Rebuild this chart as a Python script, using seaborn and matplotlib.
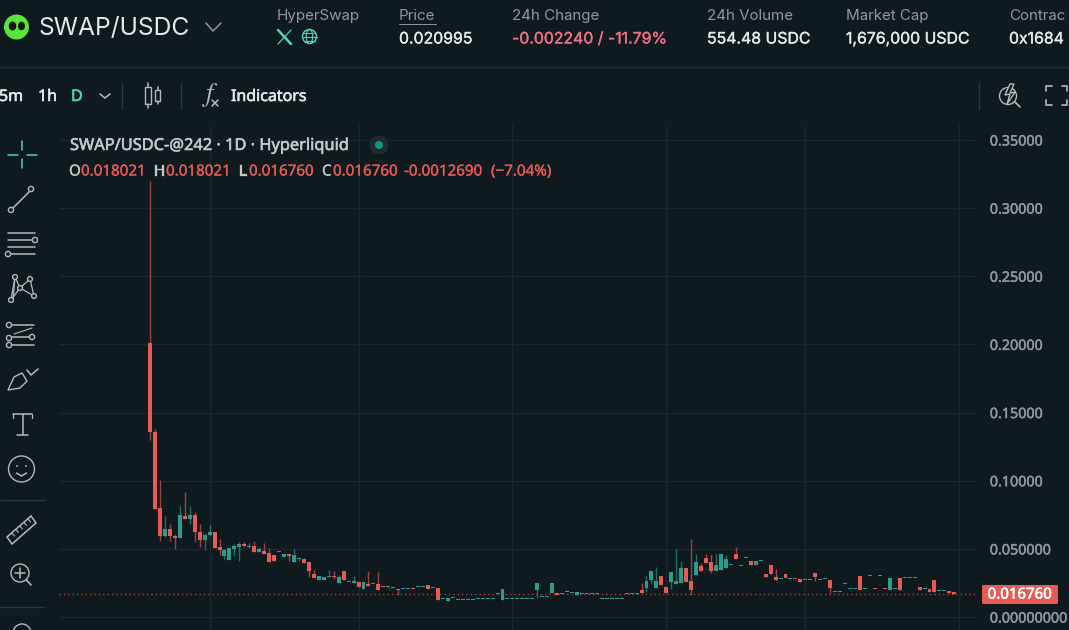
import numpy as np
import pandas as pd
import matplotlib
matplotlib.use('Agg')
import matplotlib.pyplot as plt
import matplotlib.patheffects as pe
from matplotlib.patches import Circle, Rectangle, Polygon, Ellipse, FancyBboxPatch
import seaborn as sns

# daily candles
opens = [.201,.136,.0802,.0591,.0645,.0591,.0576,.0743,.072,.075,
    .0625,.0566,.0603,.062,.0515,.0449,.042,.05,.0515,.0532,
    .0513,.0522,.0478,.0486,.0471,.0456,.0476,.0441,.0461,.0405,
    .0427,.0429,.0402,.0317,.0273,.0273,.0292,.0299,.025,.0339,
    .0255,.025,.0255,.0206,.0243,.024,.0243,.022,.0219,.0212,
    .0204,.0204,.0204,.0205,.0219,.0219,.0236,.0211,.0214,.013,
    .0118,.0138,.0123,.0123,.0123,.0125,.013,.013,.013,.013,
    .0167,.0125,.013,.013,.013,.013,.013,.013,.0199,.0145,
    .0145,.0177,.0177,.0167,.0183,.0175,.0162,.0167,.0167,.0167,
    .0167,.013,.013,.013,.013,.013,.0167,.0167,.0167,.0199,
    .0214,.0273,.0214,.0302,.0221,.0258,.0243,.025,.0361,.0265,
    .0309,.0375,.0434,.0405,.0339,.0346,.0361,.0383,.0464,.0375,
    .0432,.0412,.0383,.041,.0317,.0383,.0295,.0277,.0317,.0277,
    .0278,.028,.027,.027,.0324,.027,.0277,.0273,.0182,.0182,
    .0241,.0204,.0204,.0302,.0204,.0299,.0205,.0299,.0205,.0199,
    .0204,.0287,.0285,.0285,.0285,.0221,.0204,.0206,.0273,.0189,
    .0189,.0192,.018021]
closes = [.136,.0795,.0591,.0645,.0591,.0576,.075,.072,.075,.062,
    .0566,.0603,.0625,.0508,.049,.0493,.0508,.0522,.0532,.0522,
    .0522,.0478,.05,.0464,.0405,.0412,.0476,.0463,.0449,.0456,
    .0427,.0397,.0339,.0285,.0299,.0297,.0292,.0292,.0297,.0273,
    .0255,.0263,.0221,.0255,.0228,.024,.0201,.0219,.0219,.0211,
    .0199,.0204,.0204,.0204,.0219,.0219,.0204,.0211,.0126,.013,
    .014,.0138,.0123,.0123,.0123,.0125,.013,.013,.013,.013,
    .0167,.0206,.013,.013,.013,.013,.013,.013,.025,.0145,
    .0145,.025,.0162,.0167,.0182,.0175,.0184,.0167,.0167,.0167,
    .0167,.013,.013,.013,.013,.013,.0167,.0167,.0167,.0177,
    .0265,.0336,.0265,.0236,.0177,.0331,.0265,.0361,.0258,.0199,
    .0405,.0339,.0397,.0339,.0383,.0464,.0427,.0383,.0427,.0375,
    .0432,.0383,.0412,.041,.0295,.0317,.0273,.0277,.0287,.0277,
    .0277,.0258,.027,.027,.0295,.027,.0277,.0214,.0182,.0182,
    .0241,.0204,.0204,.0199,.0204,.0299,.0204,.0299,.0204,.0287,
    .0204,.0199,.0285,.0285,.0285,.0199,.0204,.0184,.0184,.0189,
    .0189,.0177,.01676]
highs = [.32,.138,.1003,.0743,.0684,.0611,.0816,.0914,.0811,.0767,
    .0684,.0616,.0674,.062,.0574,.0498,.0508,.0537,.0547,.0552,
    .0542,.0559,.0513,.0542,.0505,.0456,.0476,.0463,.0461,.0498,
    .0437,.0434,.0402,.0346,.0299,.0297,.0346,.0334,.0307,.0339,
    .0255,.0299,.0255,.0255,.0339,.024,.0329,.022,.0228,.0212,
    .0204,.0204,.0204,.0205,.0219,.0219,.0236,.0211,.0214,.013,
    .014,.0138,.0123,.0123,.0123,.0125,.013,.013,.013,.013,
    .0167,.0206,.013,.013,.013,.013,.013,.013,.025,.0145,
    .0145,.025,.0177,.0167,.0183,.0175,.0184,.0167,.0167,.0167,
    .0167,.013,.013,.013,.013,.013,.0167,.0167,.0167,.0253,
    .0302,.0336,.0368,.0302,.0221,.0331,.05,.0412,.0361,.0574,
    .0464,.0395,.0464,.0464,.0464,.0464,.0456,.0383,.0515,.0375,
    .0432,.0412,.0412,.041,.0317,.0383,.0353,.0277,.0317,.0277,
    .0278,.028,.027,.027,.0324,.027,.0277,.0273,.0182,.0182,
    .0241,.0204,.0204,.0302,.0204,.0299,.0205,.0299,.0205,.0287,
    .0204,.0287,.0285,.0285,.0285,.0221,.0204,.0206,.0273,.0189,
    .0189,.0192,.018021]
lows = [.13,.0795,.0554,.059,.0554,.0498,.0576,.072,.0684,.0547,
    .0513,.05,.0596,.0508,.0454,.0424,.042,.0449,.041,.0513,
    .0508,.0478,.0478,.0464,.0405,.0412,.0476,.0441,.041,.0405,
    .041,.0397,.0292,.0285,.0273,.0273,.0292,.0282,.025,.0273,
    .0255,.025,.0221,.0206,.0228,.024,.0201,.0219,.021,.0211,
    .0162,.0204,.0204,.0204,.0219,.0219,.0204,.0211,.0126,.013,
    .0118,.0138,.0123,.0123,.0123,.0125,.013,.013,.013,.013,
    .0167,.0125,.013,.013,.013,.013,.013,.013,.014,.0145,
    .0145,.0177,.0162,.0167,.0182,.0175,.0162,.0167,.0167,.0167,
    .0167,.013,.013,.013,.013,.013,.0167,.0167,.0167,.0177,
    .0184,.0243,.0214,.0236,.0177,.0206,.0243,.025,.0258,.0162,
    .0309,.0339,.0397,.0324,.0339,.0346,.0361,.0383,.0427,.0375,
    .0432,.0383,.0383,.041,.0295,.0317,.0273,.0277,.0287,.0277,
    .0277,.0258,.027,.027,.0265,.027,.0277,.0177,.0182,.0182,
    .0241,.0204,.0204,.0199,.0204,.0299,.0204,.0299,.0204,.0199,
    .0204,.0199,.0285,.0285,.0285,.0199,.0204,.0184,.0184,.0189,
    .0189,.0177,.01676]

price_ticks = [0.35, 0.30, 0.25, 0.20, 0.15, 0.10, 0.05, 0.0]
price_labels = ['0.35000', '0.30000', '0.25000', '0.20000', '0.15000', '0.10000', '0.050000', '0.00000000']
month_days = [12, 42, 73, 104, 132, 163]
last_price = 0.01676

BG = '#0f1a1f'
GRID = '#1b272c'
UP = '#2a9d8f'
DOWN = '#e85a55'
MUTED = '#8f989b'
LIGHT = '#e6e9ea'
ICON = '#b4babb'
TEAL = '#50d2c1'

sns.set_style('dark', rc={'axes.facecolor': BG, 'figure.facecolor': BG, 'grid.color': GRID,
                          'axes.grid': True, 'axes.edgecolor': BG})
plt.rcParams['font.family'] = ['Inter', 'DejaVu Sans']

df = pd.DataFrame({'day': np.arange(len(opens)), 'open': opens, 'high': highs, 'low': lows, 'close': closes})
df['up'] = df['close'] >= df['open']
df['body_low'] = df[['open', 'close']].min(axis=1)
df['body'] = (df['close'] - df['open']).abs().clip(lower=0.0009)

fig = plt.figure(figsize=(10.69, 6.30), dpi=100)
ax = fig.add_axes([59/1069, 0, (978-59)/1069, 505/630])

# wicks then bodies
for is_up, color in [(True, UP), (False, DOWN)]:
    part = df[df['up'] == is_up]
    ax.vlines(part['day'], part['low'], part['high'], color=color, lw=1, alpha=0.65, zorder=3)
    sns.barplot(data=part, x='day', y='body', bottom=part['body_low'].values, native_scale=True,
                color=color, saturation=1, width=0.8, errorbar=None, linewidth=0, ax=ax, zorder=4)

ax.axhline(last_price, color=DOWN, lw=0.9, ls=(0, (1, 2.5)), alpha=0.75, zorder=2)
ax.set_xlim(-18.33, 166.77)
ax.set_ylim(-0.00954, 0.36097)
ax.set_xticks(month_days)
ax.set_xticklabels([])
ax.set_yticks(price_ticks)
ax.set_yticklabels(price_labels, color=MUTED, fontsize=10.3, family='Noto Sans',
                   path_effects=[pe.withStroke(linewidth=0.35, foreground=MUTED)])
ax.yaxis.tick_right()
ax.tick_params(length=0, pad=8.5, bottom=False)
ax.set_xlabel('')
ax.set_ylabel('')
ax.grid(True, color=GRID, lw=1)
for s in ax.spines.values():
    s.set_visible(False)

# pixel overlay for the app's chrome
ov = fig.add_axes([0, 0, 1, 1], zorder=5)
ov.set_xlim(0, 1069)
ov.set_ylim(630, 0)
ov.axis('off')
ov.patch.set_alpha(0)

def txt(x, y, s, color=LIGHT, size=10.8, family='Inter', stroke=0, **kw):
    t = ov.text(x, y, s, color=color, fontsize=size, family=family, va='center', ha=kw.pop('ha', 'left'), **kw)
    if stroke:
        t.set_path_effects([pe.withStroke(linewidth=stroke, foreground=color)])

def line(xs, ys, color=ICON, lw=1.1):
    ov.plot(xs, ys, color=color, lw=lw, solid_capstyle='round')

def ring(x, y, r=2.6, color=ICON, lw=1):
    ov.add_patch(Circle((x, y), r, fc=BG, ec=color, lw=lw, zorder=6))

# header
ov.add_patch(Rectangle((0, 66), 1069, 3, fc='#1b262b', lw=0))
ov.add_patch(Circle((16.5, 27), 12.5, fc='#5be33c', lw=0))
ov.add_patch(Ellipse((12.5, 26), 7.5, 9, fc='#0a1408', lw=0))
ov.add_patch(Ellipse((21.5, 26), 7, 8.5, fc='#0a1408', lw=0))
txt(39, 28, 'SWAP/USDC', size=17.7)
line([206, 213, 221], [23, 31, 23], color=MUTED)

txt(277, 16, 'HyperSwap', MUTED, 10.9)
txt(399, 16, 'Price', MUTED, 10.9)
line([399, 436], [24, 24], color=MUTED, lw=0.7)
txt(399, 39, '0.020995', size=11.4, stroke=0.25)
txt(512, 16, '24h Change', MUTED, 10.9)
txt(512, 39, '-0.002240 / -11.79%', '#ed7088', 11.4, stroke=0.25)
txt(707, 16, '24h Volume', MUTED, 10.9)
txt(707, 39, '554.48 USDC', size=11.4, stroke=0.25)
txt(846, 16, 'Market Cap', MUTED, 10.9)
txt(846, 39, '1,676,000 USDC', size=11.4, stroke=0.25)
txt(1009, 16, 'Contrac', MUTED, 10.9)
txt(1009, 39, '0x1684', size=11.4, stroke=0.25)

# x and globe links
line([278, 291], [30, 44], color=TEAL, lw=1.8)
line([291, 278], [30, 44], color=TEAL, lw=0.9)
ov.add_patch(Circle((309.5, 36.5), 7, fc='none', ec=TEAL, lw=1))
ov.add_patch(Ellipse((309.5, 36.5), 6.5, 14, fc='none', ec=TEAL, lw=0.8))
line([302.5, 316.5], [36.5, 36.5], color=TEAL, lw=0.8)
line([304, 315], [32.5, 32.5], color=TEAL, lw=0.7)
line([304, 315], [40.5, 40.5], color=TEAL, lw=0.7)

# toolbar
txt(-1, 97, '5m', LIGHT, 11.5, 'Noto Sans', stroke=0.4)
txt(38, 97, '1h', LIGHT, 11.5, 'Noto Sans', stroke=0.4)
txt(71, 97, 'D', TEAL, 11.5, 'Noto Sans', stroke=0.4)
line([100, 105, 110], [94, 98, 94], color=ICON)
for sep_x in (122, 181, 979):
    line([sep_x, sep_x], [83, 109], color='#2d383c', lw=1)
ov.add_patch(Rectangle((145, 87), 5.5, 17, fc='none', ec=ICON, lw=1))
line([147.7, 147.7], [83, 87]); line([147.7, 147.7], [104, 108])
ov.add_patch(Rectangle((155, 90), 5, 11, fc='none', ec=ICON, lw=1))
line([157.5, 157.5], [87, 90]); line([157.5, 157.5], [101, 104])
txt(202, 95, '$f$', ICON, 19, 'DejaVu Serif', math_fontfamily='stix')
line([212, 218], [100, 106]); line([218, 212], [100, 106])
txt(231, 97, 'Indicators', LIGHT, 11.5, 'Noto Sans', stroke=0.4)

# right side icons
ov.add_patch(Circle((1008, 96), 8.5, fc='none', ec=ICON, lw=1))
ov.add_patch(Polygon([(1010, 84), (1005, 95), (1010, 94), (1007, 104), (1015, 92), (1010, 93), (1014, 84)],
                     fc=BG, ec=ICON, lw=1, zorder=6))
line([1015, 1020], [102, 107], lw=1.2)
for xs, ys in [([1046, 1046, 1052], [91, 86, 86]), ([1062, 1067, 1067], [86, 86, 91]),
               ([1046, 1046, 1052], [100, 105, 105]), ([1062, 1067, 1067], [105, 105, 100])]:
    line(xs, ys, lw=1.2)

# left drawing tools
line([22, 22], [141, 150], color=TEAL, lw=1.1); line([22, 22], [159, 168], color=TEAL, lw=1.1)
line([8, 18], [155, 155], color=TEAL, lw=1.1); line([27, 37], [155, 155], color=TEAL, lw=1.1)
line([11, 31], [210, 190]); ring(11, 210); ring(31, 189)
line([8, 35], [233, 233]); line([8, 35], [240, 240]); line([8, 35], [247, 247]); line([8, 35], [254, 254])
ring(35, 240); ring(8, 254)
for a, b in [((11, 300), (15, 277)), ((15, 277), (20, 288)), ((20, 288), (30, 279)), ((30, 279), (34, 296)),
             ((11, 300), (20, 288)), ((20, 288), (34, 296)), ((15, 277), (13, 300))]:
    line([a[0], b[0]], [a[1], b[1]], lw=0.9)
for p in [(11, 300), (15, 277), (20, 288), (30, 279), (34, 296)]:
    ring(p[0], p[1], 2.4)
line([10, 34], [325, 325]); line([10, 34], [337, 337]); line([10, 34], [345, 345])
line([14, 32], [334, 328], lw=0.8)
ring(9, 325); ring(9, 338); ring(32, 337); ring(9, 345)
ov.add_patch(Polygon([(8, 390), (14, 377), (22, 373), (27, 381), (20, 388)], fc='none', ec=ICON, lw=1))
line([27, 31, 38], [370, 375, 369])
line([13, 32], [414, 414]); line([22.5, 22.5], [414, 435]); line([17, 28], [435, 435])
line([13, 13], [414, 418], lw=0.9); line([32, 32], [414, 418], lw=0.9)
ov.add_patch(Circle((21.5, 469), 13, fc='none', ec=ICON, lw=1))
ov.add_patch(Circle((17, 466), 0.9, fc=ICON, lw=0)); ov.add_patch(Circle((26, 466), 0.9, fc=ICON, lw=0))
line([16.5, 21.5, 26.5], [473, 476, 473])
line([0, 44], [500, 500], color='#2d383c', lw=1)
ov.add_patch(Polygon([(7, 537), (31, 516), (36, 523), (12, 544)], fc='none', ec=ICON, lw=1.1))
for i in range(5):
    line([12 + 4*i, 14.5 + 4*i], [533 - 3.5*i, 536 - 3.5*i], lw=0.8)
ov.add_patch(Circle((20, 573), 9, fc='none', ec=ICON, lw=1))
line([26.5, 31], [580, 585], lw=1.2); line([15, 25], [573, 573]); line([20, 20], [568, 578])
line([0, 44], [607, 607], color='#2d383c', lw=1)
ov.add_patch(Circle((22, 633), 9, fc='none', ec=ICON, lw=1))

# chart legend
txt(70, 146, 'SWAP/USDC-@242 · 1D · Hyperliquid', '#c3c8c9', 11.8, 'Noto Sans', stroke=0.4)
ov.add_patch(Circle((379, 145), 9.5, fc='#1f2c2f', lw=0))
ov.add_patch(Circle((379, 145), 4, fc='#0d9a83', lw=0))
for x, s, c in [(69, 'O', '#c3c8c9'), (81, '0.018021', DOWN), (154, 'H', '#c3c8c9'), (166, '0.018021', DOWN),
                (239, 'L', '#c3c8c9'), (249, '0.016760', DOWN), (322, 'C', '#c3c8c9'), (333, '0.016760', DOWN),
                (404, '-0.0012690', DOWN), (491, '(−7.04%)', DOWN)]:
    txt(x, 172, s, c, 10.9, 'Noto Sans', stroke=0.2)

# last price tag
ov.add_patch(FancyBboxPatch((982, 585), 76, 19, boxstyle='round,pad=0,rounding_size=1.5', fc=DOWN, lw=0))
txt(1020, 595, '0.016760', 'white', 10.8, 'Noto Sans', ha='center', stroke=0.45)

fig.savefig('out.png', dpi=100, facecolor=BG)
